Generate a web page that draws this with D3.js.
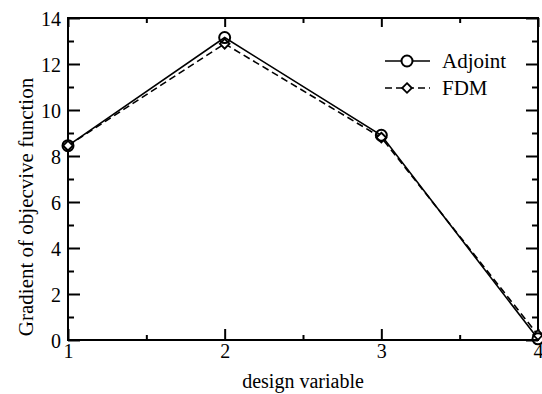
<!DOCTYPE html>
<html>
<head>
<meta charset="utf-8">
<script src="https://cdn.jsdelivr.net/npm/d3@7"></script>
<style>
  body { margin: 0; background: #fff; }
</style>
</head>
<body>
<svg id="chart" width="542" height="394"></svg>
<script>
const designVars = [1, 2, 3, 4]
const adjoint = [8.45, 13.15, 8.9, 0.05]
const fdm = [8.45, 12.88, 8.8, 0.22]
const yTicks = [0, 2, 4, 6, 8, 10, 12, 14]
const yMinor = [1, 3, 5, 7, 9, 11, 13]
const xTicks = [1, 2, 3, 4]
const xMinor = [1.5, 2.5, 3.5]

const FONT = '"Liberation Serif", "Times New Roman", Times, serif'

const margin = { top: 18, right: 4, bottom: 54, left: 68 }
const W = 542, H = 394
const w = W - margin.left - margin.right
const h = H - margin.top - margin.bottom

const svg = d3.select('#chart')
const g = svg.append('g').attr('transform', `translate(${margin.left},${margin.top})`)

const x = d3.scaleLinear().domain([1, 4]).range([0, w])
const y = d3.scaleLinear().domain([0, 14]).range([h, 0])

// ticks on all four sides, pointing inward
const tickStyle = (sel) => sel.call((s) => s.select('.domain').remove())
  .attr('font-family', FONT)
  .call((s) => s.selectAll('line').attr('stroke', '#000').attr('stroke-width', 2))

g.append('g').attr('transform', `translate(0,${h})`)
  .call(d3.axisBottom(x).tickValues(xTicks).tickSize(-11).tickPadding(4).tickFormat(d3.format('d')))
  .call(tickStyle)
  .call((s) => s.selectAll('text').style('font-family', FONT).style('font-size', '20px').attr('fill', '#000'))
g.append('g').attr('transform', `translate(0,${h})`)
  .call(d3.axisBottom(x).tickValues(xMinor).tickSize(-5).tickFormat(''))
  .call(tickStyle)
g.append('g')
  .call(d3.axisTop(x).tickValues(xTicks).tickSize(-9).tickFormat(''))
  .call(tickStyle)
g.append('g')
  .call(d3.axisTop(x).tickValues(xMinor).tickSize(-5).tickFormat(''))
  .call(tickStyle)

g.append('g')
  .call(d3.axisLeft(y).tickValues(yTicks).tickSize(-12).tickPadding(7))
  .call(tickStyle)
  .call((s) => s.selectAll('text').style('font-family', FONT).style('font-size', '20px')
    .attr('fill', '#000').attr('dy', '0.35em'))
g.append('g')
  .call(d3.axisLeft(y).tickValues(yMinor).tickSize(-6).tickFormat(''))
  .call(tickStyle)
g.append('g').attr('transform', `translate(${w},0)`)
  .call(d3.axisRight(y).tickValues(yTicks).tickSize(-12).tickFormat(''))
  .call(tickStyle)
g.append('g').attr('transform', `translate(${w},0)`)
  .call(d3.axisRight(y).tickValues(yMinor).tickSize(-6).tickFormat(''))
  .call(tickStyle)

g.append('rect')
  .attr('width', w).attr('height', h)
  .attr('fill', 'none').attr('stroke', '#000').attr('stroke-width', 2)

// series
const line = d3.line().x((d) => x(d[0])).y((d) => y(d[1]))
const fdmPts = designVars.map((v, i) => [v, fdm[i]])
const adjPts = designVars.map((v, i) => [v, adjoint[i]])

g.append('path').datum(fdmPts)
  .attr('fill', 'none').attr('stroke', '#000').attr('stroke-width', 1.6)
  .attr('stroke-dasharray', '7,4').attr('d', line)
g.append('path').datum(adjPts)
  .attr('fill', 'none').attr('stroke', '#000').attr('stroke-width', 1.6).attr('d', line)

const diamond = d3.symbol().type(d3.symbolDiamond2).size(60)
g.selectAll('.fdm').data(fdmPts).enter().append('path')
  .attr('transform', (d) => `translate(${x(d[0])},${y(d[1])})`)
  .attr('d', diamond).attr('fill', '#fff').attr('stroke', '#000').attr('stroke-width', 1.8)
g.selectAll('.adj').data(adjPts).enter().append('circle')
  .attr('cx', (d) => x(d[0])).attr('cy', (d) => y(d[1])).attr('r', 5.5)
  .attr('fill', 'none').attr('stroke', '#000').attr('stroke-width', 2)

// legend
const legend = [
  { name: 'Adjoint', dash: null, yPos: 61, shape: 'circle' },
  { name: 'FDM', dash: '7,4', yPos: 88, shape: 'diamond' },
]
const lg = svg.append('g')
legend.forEach((d) => {
  lg.append('line').attr('x1', 385).attr('x2', 430).attr('y1', d.yPos).attr('y2', d.yPos)
    .attr('stroke', '#000').attr('stroke-width', 1.6).attr('stroke-dasharray', d.dash)
  if (d.shape === 'circle') {
    lg.append('circle').attr('cx', 407).attr('cy', d.yPos).attr('r', 5.5)
      .attr('fill', '#fff').attr('stroke', '#000').attr('stroke-width', 2)
  } else {
    lg.append('path').attr('transform', `translate(407,${d.yPos})`).attr('d', diamond)
      .attr('fill', '#fff').attr('stroke', '#000').attr('stroke-width', 1.8)
  }
  lg.append('text').attr('x', 442).attr('y', d.yPos + 7)
    .style('font-family', FONT).style('font-size', '21px').text(d.name)
})

// axis titles
svg.append('text')
  .attr('x', margin.left + w / 2).attr('y', 388)
  .attr('text-anchor', 'middle').style('font-family', FONT).style('font-size', '20px')
  .text('design variable')
svg.append('text')
  .attr('transform', 'translate(33,207) rotate(-90)')
  .attr('text-anchor', 'middle').style('font-family', FONT).style('font-size', '21px')
  .text('Gradient of objecvive function')
</script>
</body>
</html>
